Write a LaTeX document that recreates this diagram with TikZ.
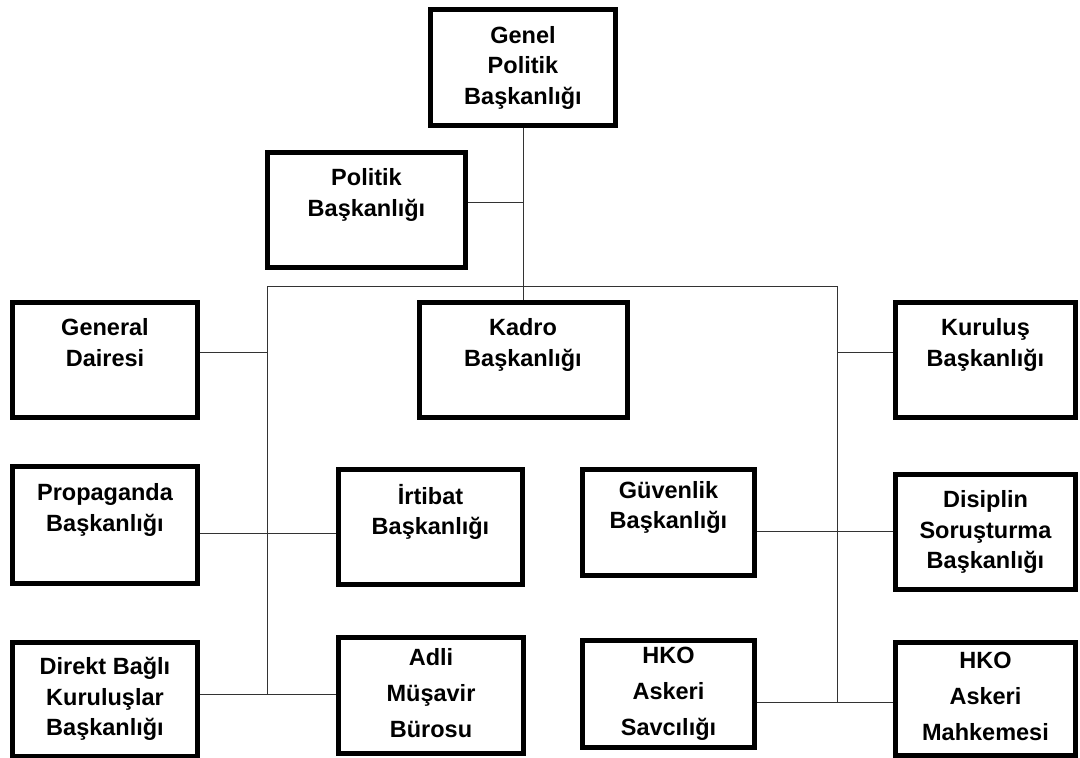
\documentclass[tikz,border=0pt]{standalone}
\usepackage{fontspec}
\setmainfont{Liberation Sans}
\usepackage{tikz}
\tikzset{
  % Unit box: fixed size, text in three rows
  unit/.style 2 args={
    rectangle, draw=black, line width=5pt, fill=white,
    minimum width=#1, minimum height=#2, inner sep=0pt,
    align=center, font=\fontsize{23.5}{30.5}\selectfont\bfseries,
    execute at begin node={\rule{0pt}{21pt}},
    execute at end node={\rule[-5pt]{0pt}{5pt}}
  },
  % Wider row spacing
  loose/.style={font=\fontsize{23.5}{36}\selectfont\bfseries},
  % Connector
  link/.style={line width=1pt, color=black!80}
}

\begin{document}
\begin{tikzpicture}[x=1pt, y=-1pt]
  \useasboundingbox (0,0) rectangle (1080,758);

  % Top
  \node[unit={185}{116}] (genel) at (523,67.5) {Genel\\Politik\\Başkanlığı};
  \node[unit={198}{115}] (politik) at (366.5,210) {Politik\\Başkanlığı\\~};

  % First row
  \node[unit={185}{115}] (general) at (105,360) {General\\Dairesi\\~};
  \node[unit={208}{115}] (kadro) at (523,360) {Kadro\\Başkanlığı\\~};
  \node[unit={180}{115}] (kurulus) at (985.5,360) {Kuruluş\\Başkanlığı\\~};

  % Second row
  \node[unit={185}{117}] (propaganda) at (105,525) {Propaganda\\Başkanlığı\\~};
  \node[unit={184}{115}] (irtibat) at (430.5,527) {İrtibat\\Başkanlığı\\~};
  \node[unit={172}{106}] (guvenlik) at (668.5,522.5) {Güvenlik\\Başkanlığı\\~};
  \node[unit={180}{115}] (disiplin) at (985.5,532) {Disiplin\\Soruşturma\\Başkanlığı};

  % Third row
  \node[unit={185}{114}] (direkt) at (105,699) {Direkt Bağlı\\Kuruluşlar\\Başkanlığı};
  \node[unit={185}{116}, loose] (adli) at (431,695.5) {Adli\\Müşavir\\Bürosu};
  \node[unit={172}{107}, loose] (savcilik) at (668.5,694) {HKO\\Askeri\\Savcılığı};
  \node[unit={180}{113}, loose] (mahkeme) at (985.5,699) {HKO\\Askeri\\Mahkemesi};

  % Bus and junctions
  \coordinate (busL) at (267,286);
  \coordinate (busR) at (837,286);
  \coordinate (jPol) at (523,202);
  \coordinate (jGen) at (267,352);
  \coordinate (jKur) at (837,352);
  \coordinate (jPro) at (267,533);
  \coordinate (jGuv) at (837,531);
  \coordinate (jDir) at (267,694);
  \coordinate (jHko) at (837,702);

  % Relations
  \draw[link] (genel) -- (kadro);
  \draw[link] (politik.east |- jPol) -- (jPol);
  \draw[link] (jDir) -- (busL) -- (busR) -- (jHko);
  \draw[link] (general.east |- jGen) -- (jGen);
  \draw[link] (kurulus.west |- jKur) -- (jKur);
  \draw[link] (propaganda.east |- jPro) -- (irtibat.west |- jPro);
  \draw[link] (guvenlik.east |- jGuv) -- (disiplin.west |- jGuv);
  \draw[link] (direkt.east |- jDir) -- (adli.west |- jDir);
  \draw[link] (savcilik.east |- jHko) -- (mahkeme.west |- jHko);

\end{tikzpicture}
\end{document}
